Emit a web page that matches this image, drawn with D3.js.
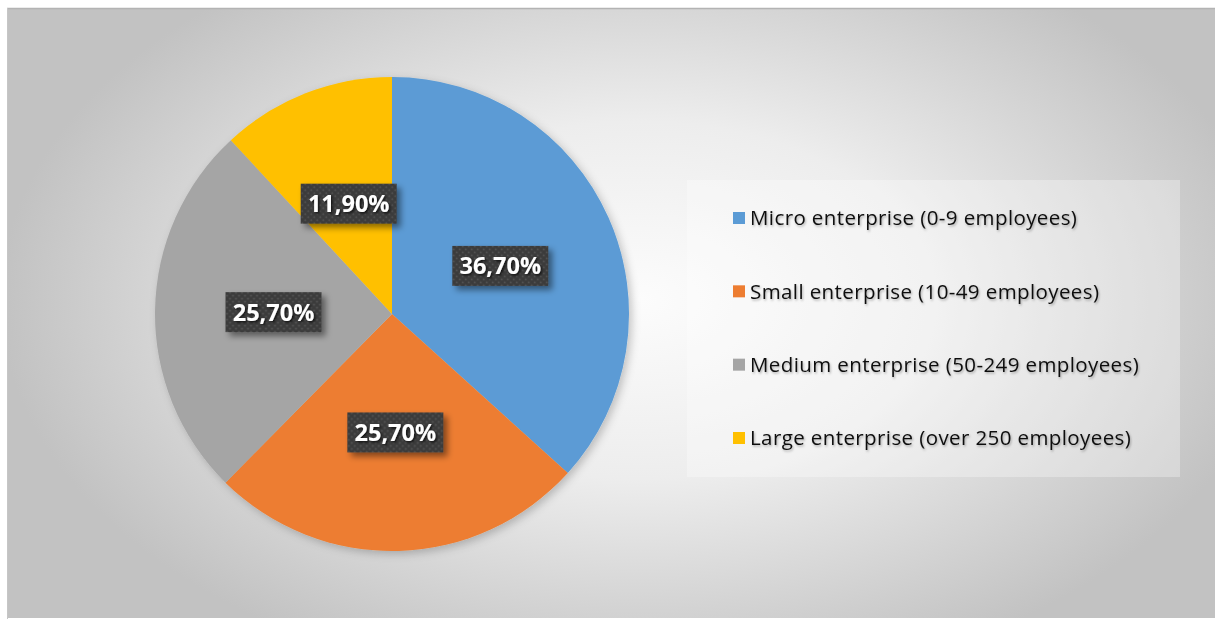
<!DOCTYPE html>
<html>
<head>
<meta charset="utf-8">
<script src="https://cdn.jsdelivr.net/npm/d3@7"></script>
<style>
  html, body { margin: 0; padding: 0; background: #ffffff; }
  svg { display: block; }
</style>
</head>
<body>
<svg id="chart" width="1215" height="619"></svg>
<script>
// Enterprise size shares
const categories = [
  "Micro enterprise (0-9 employees)",
  "Small enterprise (10-49 employees)",
  "Medium enterprise (50-249 employees)",
  "Large enterprise (over 250 employees)"
];
const shares = [36.7, 25.7, 25.7, 11.9];
const shareLabels = ["36,70%", "25,70%", "25,70%", "11,90%"];
const colors = ["#5B9BD5", "#ED7D31", "#A5A5A5", "#FFC000"];

const W = 1215, H = 619;
const svg = d3.select("#chart");
const defs = svg.append("defs");

// Chart area background: radial gray gradient
const bg = defs.append("radialGradient").attr("id", "bgGrad")
  .attr("gradientUnits", "userSpaceOnUse")
  .attr("cx", 640).attr("cy", 300).attr("r", 640)
  .attr("gradientTransform", "translate(640,300) scale(1,0.62) translate(-640,-300)");
bg.append("stop").attr("offset", "0").attr("stop-color", "#fcfcfc");
bg.append("stop").attr("offset", "0.45").attr("stop-color", "#ededed");
bg.append("stop").attr("offset", "1").attr("stop-color", "#c2c2c2");

// Soft shadow used by the pie and the label boxes
const sh = defs.append("filter").attr("id", "pieShadow")
  .attr("x", "-10%").attr("y", "-10%").attr("width", "125%").attr("height", "125%");
sh.append("feDropShadow").attr("dx", 3).attr("dy", 3).attr("stdDeviation", 4)
  .attr("flood-color", "#000").attr("flood-opacity", 0.22);

const lsh = defs.append("filter").attr("id", "boxShadow")
  .attr("x", "-20%").attr("y", "-30%").attr("width", "150%").attr("height", "180%");
lsh.append("feDropShadow").attr("dx", 4).attr("dy", 4).attr("stdDeviation", 3)
  .attr("flood-color", "#000").attr("flood-opacity", 0.45);

const tsh = defs.append("filter").attr("id", "textShadow")
  .attr("x", "-10%").attr("y", "-30%").attr("width", "130%").attr("height", "170%");
tsh.append("feDropShadow").attr("dx", 1).attr("dy", 1.5).attr("stdDeviation", 1)
  .attr("flood-color", "#000").attr("flood-opacity", 0.3);

const wsh = defs.append("filter").attr("id", "whiteTextShadow")
  .attr("x", "-10%").attr("y", "-30%").attr("width", "130%").attr("height", "170%");
wsh.append("feDropShadow").attr("dx", 1.5).attr("dy", 1.5).attr("stdDeviation", 1)
  .attr("flood-color", "#000").attr("flood-opacity", 0.7);

// Dotted texture for label boxes
const pat = defs.append("pattern").attr("id", "dots")
  .attr("patternUnits", "userSpaceOnUse").attr("width", 6).attr("height", 6);
pat.append("rect").attr("width", 6).attr("height", 6).attr("fill", "#3b3b3b");
pat.append("circle").attr("cx", 1.5).attr("cy", 1.5).attr("r", 0.9).attr("fill", "#585858");
pat.append("circle").attr("cx", 4.5).attr("cy", 4.5).attr("r", 0.9).attr("fill", "#585858");

// Chart frame
svg.append("rect").attr("x", 7).attr("y", 8).attr("width", W - 7).attr("height", H - 9)
  .attr("fill", "url(#bgGrad)");
svg.append("line").attr("x1", 7).attr("x2", W).attr("y1", 8.5).attr("y2", 8.5)
  .attr("stroke", "#b3b3b3").attr("stroke-width", 1.5);
svg.append("line").attr("x1", 7.5).attr("x2", 7.5).attr("y1", 8).attr("y2", H)
  .attr("stroke", "#c6c6c6").attr("stroke-width", 1);

// Pie
const cx = 392, cy = 314, R = 237;
const pie = d3.pie().sort(null).value(d => d)(shares);
const arc = d3.arc().innerRadius(0).outerRadius(R);

const g = svg.append("g").attr("transform", `translate(${cx},${cy})`);
g.append("g").attr("filter", "url(#pieShadow)")
  .selectAll("path").data(pie).join("path")
  .attr("d", arc)
  .attr("fill", (d, i) => colors[i]);

// Data labels at slice centroids
const bw = 96, bh = 40;
const labels = g.selectAll("g.lbl").data(pie).join("g")
  .attr("class", "lbl")
  .attr("transform", d => {
    const [x, y] = arc.centroid(d);
    return `translate(${x},${y})`;
  });
labels.append("rect")
  .attr("x", -bw / 2).attr("y", -bh / 2).attr("width", bw).attr("height", bh)
  .attr("fill", "url(#dots)")
  .attr("filter", "url(#boxShadow)");
labels.append("text")
  .attr("text-anchor", "middle").attr("dy", "0.36em")
  .attr("font-family", "'Open Sans', 'DejaVu Sans', sans-serif")
  .attr("font-weight", "bold").attr("font-size", 23.5)
  .attr("fill", "#ffffff")
  .attr("filter", "url(#whiteTextShadow)")
  .text((d, i) => shareLabels[i]);

// Legend
const lg = svg.append("g").attr("transform", "translate(687,180)");
lg.append("rect").attr("width", 493).attr("height", 297)
  .attr("fill", "#ffffff").attr("fill-opacity", 0.3);
const rowY = d3.scalePoint().domain(categories).range([38, 258]);
const items = lg.selectAll("g.item").data(categories).join("g")
  .attr("class", "item")
  .attr("transform", d => `translate(0,${rowY(d)})`);
items.append("rect").attr("x", 46).attr("y", -6).attr("width", 12).attr("height", 12)
  .attr("fill", (d, i) => colors[i]);
items.append("text")
  .attr("x", 63).attr("dy", "0.36em")
  .attr("font-family", "'Open Sans', 'DejaVu Sans', sans-serif")
  .attr("font-size", 20.5).attr("letter-spacing", 0.4).attr("fill", "#111111")
  .attr("filter", "url(#textShadow)")
  .text(d => d);
</script>
</body>
</html>
